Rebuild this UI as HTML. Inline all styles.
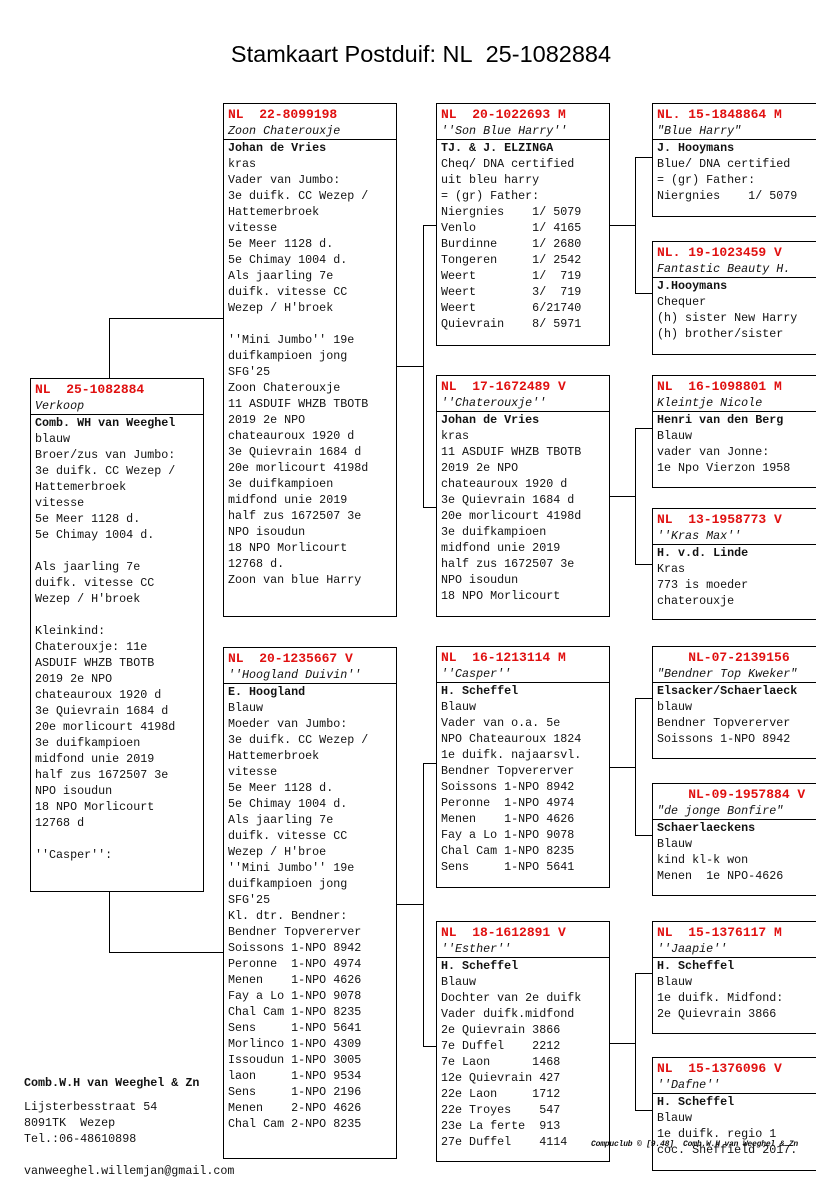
<!DOCTYPE html>
<html><head><meta charset="utf-8"><style>
body{margin:0;width:816px;height:1172px;position:relative;overflow:hidden;background:#fff;font-family:"Liberation Mono",monospace}
.b{position:absolute;border:1px solid #000;font-size:11.7px;line-height:16px;overflow:hidden;background:#fff;box-sizing:border-box;color:#111}
.h{padding:3px 0 0 4px;height:32px;border-bottom:1px solid #000;white-space:pre}
.r{color:#e01010;font-weight:bold;font-size:13px}
.i{font-style:italic}
.t{padding:0 0 0 4px;white-space:pre}
.o{font-weight:bold}
.l{position:absolute;background:#000}
</style></head><body>
<div style="position:absolute;left:0;width:842px;top:41px;text-align:center;font:23.5px 'Liberation Sans',sans-serif;">Stamkaart Postduif: NL&nbsp; 25-1082884</div>

<!-- connectors -->
<div class="l" style="left:109px;top:318px;width:1px;height:60px"></div>
<div class="l" style="left:109px;top:318px;width:114px;height:1px"></div>
<div class="l" style="left:109px;top:891px;width:1px;height:61px"></div>
<div class="l" style="left:109px;top:952px;width:114px;height:1px"></div>

<div class="l" style="left:396px;top:366px;width:27px;height:1px"></div>
<div class="l" style="left:423px;top:225px;width:1px;height:282px"></div>
<div class="l" style="left:423px;top:225px;width:13px;height:1px"></div>
<div class="l" style="left:423px;top:507px;width:13px;height:1px"></div>

<div class="l" style="left:396px;top:904px;width:27px;height:1px"></div>
<div class="l" style="left:423px;top:763px;width:1px;height:283px"></div>
<div class="l" style="left:423px;top:763px;width:13px;height:1px"></div>
<div class="l" style="left:423px;top:1046px;width:13px;height:1px"></div>

<div class="l" style="left:609px;top:225px;width:26px;height:1px"></div>
<div class="l" style="left:635px;top:157px;width:1px;height:136px"></div>
<div class="l" style="left:635px;top:157px;width:17px;height:1px"></div>
<div class="l" style="left:635px;top:293px;width:17px;height:1px"></div>

<div class="l" style="left:609px;top:496px;width:26px;height:1px"></div>
<div class="l" style="left:635px;top:428px;width:1px;height:136px"></div>
<div class="l" style="left:635px;top:428px;width:17px;height:1px"></div>
<div class="l" style="left:635px;top:564px;width:17px;height:1px"></div>

<div class="l" style="left:609px;top:767px;width:26px;height:1px"></div>
<div class="l" style="left:635px;top:698px;width:1px;height:137px"></div>
<div class="l" style="left:635px;top:698px;width:17px;height:1px"></div>
<div class="l" style="left:635px;top:835px;width:17px;height:1px"></div>

<div class="l" style="left:609px;top:1043px;width:26px;height:1px"></div>
<div class="l" style="left:635px;top:973px;width:1px;height:137px"></div>
<div class="l" style="left:635px;top:973px;width:17px;height:1px"></div>
<div class="l" style="left:635px;top:1110px;width:17px;height:1px"></div>

<!-- col1 -->
<div class="b" style="left:30px;top:378px;width:174px;height:514px">
<div class="h"><span class="r">NL  25-1082884</span>
<span class="i">Verkoop</span></div>
<div class="t"><span class="o">Comb. WH van Weeghel</span>
blauw
Broer/zus van Jumbo:
3e duifk. CC Wezep /
Hattemerbroek
vitesse
5e Meer 1128 d.
5e Chimay 1004 d.

Als jaarling 7e
duifk. vitesse CC
Wezep / H'broek

Kleinkind:
Chaterouxje: 11e
ASDUIF WHZB TBOTB
2019 2e NPO
chateauroux 1920 d
3e Quievrain 1684 d
20e morlicourt 4198d
3e duifkampioen
midfond unie 2019
half zus 1672507 3e
NPO isoudun
18 NPO Morlicourt
12768 d

''Casper'':</div></div>

<!-- col2 -->
<div class="b" style="left:223px;top:103px;width:174px;height:514px">
<div class="h"><span class="r">NL  22-8099198</span>
<span class="i">Zoon Chaterouxje</span></div>
<div class="t"><span class="o">Johan de Vries</span>
kras
Vader van Jumbo:
3e duifk. CC Wezep /
Hattemerbroek
vitesse
5e Meer 1128 d.
5e Chimay 1004 d.
Als jaarling 7e
duifk. vitesse CC
Wezep / H'broek

''Mini Jumbo'' 19e
duifkampioen jong
SFG'25
Zoon Chaterouxje
11 ASDUIF WHZB TBOTB
2019 2e NPO
chateauroux 1920 d
3e Quievrain 1684 d
20e morlicourt 4198d
3e duifkampioen
midfond unie 2019
half zus 1672507 3e
NPO isoudun
18 NPO Morlicourt
12768 d.
Zoon van blue Harry</div></div>

<div class="b" style="left:223px;top:647px;width:174px;height:512px">
<div class="h"><span class="r">NL  20-1235667 V</span>
<span class="i">''Hoogland Duivin''</span></div>
<div class="t"><span class="o">E. Hoogland</span>
Blauw
Moeder van Jumbo:
3e duifk. CC Wezep /
Hattemerbroek
vitesse
5e Meer 1128 d.
5e Chimay 1004 d.
Als jaarling 7e
duifk. vitesse CC
Wezep / H'broe
''Mini Jumbo'' 19e
duifkampioen jong
SFG'25
Kl. dtr. Bendner:
Bendner Topvererver
Soissons 1-NPO 8942
Peronne  1-NPO 4974
Menen    1-NPO 4626
Fay a Lo 1-NPO 9078
Chal Cam 1-NPO 8235
Sens     1-NPO 5641
Morlinco 1-NPO 4309
Issoudun 1-NPO 3005
laon     1-NPO 9534
Sens     1-NPO 2196
Menen    2-NPO 4626
Chal Cam 2-NPO 8235</div></div>

<!-- col3 -->
<div class="b" style="left:436px;top:103px;width:174px;height:243px">
<div class="h"><span class="r">NL  20-1022693 M</span>
<span class="i">''Son Blue Harry''</span></div>
<div class="t"><span class="o">TJ. &amp; J. ELZINGA</span>
Cheq/ DNA certified
uit bleu harry
= (gr) Father:
Niergnies    1/ 5079
Venlo        1/ 4165
Burdinne     1/ 2680
Tongeren     1/ 2542
Weert        1/  719
Weert        3/  719
Weert        6/21740
Quievrain    8/ 5971</div></div>

<div class="b" style="left:436px;top:375px;width:174px;height:242px">
<div class="h"><span class="r">NL  17-1672489 V</span>
<span class="i">''Chaterouxje''</span></div>
<div class="t"><span class="o">Johan de Vries</span>
kras
11 ASDUIF WHZB TBOTB
2019 2e NPO
chateauroux 1920 d
3e Quievrain 1684 d
20e morlicourt 4198d
3e duifkampioen
midfond unie 2019
half zus 1672507 3e
NPO isoudun
18 NPO Morlicourt</div></div>

<div class="b" style="left:436px;top:646px;width:174px;height:242px">
<div class="h"><span class="r">NL  16-1213114 M</span>
<span class="i">''Casper''</span></div>
<div class="t"><span class="o">H. Scheffel</span>
Blauw
Vader van o.a. 5e
NPO Chateauroux 1824
1e duifk. najaarsvl.
Bendner Topvererver
Soissons 1-NPO 8942
Peronne  1-NPO 4974
Menen    1-NPO 4626
Fay a Lo 1-NPO 9078
Chal Cam 1-NPO 8235
Sens     1-NPO 5641</div></div>

<div class="b" style="left:436px;top:921px;width:174px;height:241px">
<div class="h"><span class="r">NL  18-1612891 V</span>
<span class="i">''Esther''</span></div>
<div class="t"><span class="o">H. Scheffel</span>
Blauw
Dochter van 2e duifk
Vader duifk.midfond
2e Quievrain 3866
7e Duffel    2212
7e Laon      1468
12e Quievrain 427
22e Laon     1712
22e Troyes    547
23e La ferte  913
27e Duffel    4114</div></div>

<!-- col4 -->
<div class="b" style="left:652px;top:103px;width:180px;height:114px">
<div class="h"><span class="r">NL. 15-1848864 M</span>
<span class="i">"Blue Harry"</span></div>
<div class="t"><span class="o">J. Hooymans</span>
Blue/ DNA certified
= (gr) Father:
Niergnies    1/ 5079</div></div>

<div class="b" style="left:652px;top:241px;width:180px;height:114px">
<div class="h"><span class="r">NL. 19-1023459 V</span>
<span class="i">Fantastic Beauty H.</span></div>
<div class="t"><span class="o">J.Hooymans</span>
Chequer
(h) sister New Harry
(h) brother/sister</div></div>

<div class="b" style="left:652px;top:375px;width:180px;height:113px">
<div class="h"><span class="r">NL  16-1098801 M</span>
<span class="i">Kleintje Nicole</span></div>
<div class="t"><span class="o">Henri van den Berg</span>
Blauw
vader van Jonne:
1e Npo Vierzon 1958</div></div>

<div class="b" style="left:652px;top:508px;width:180px;height:112px">
<div class="h"><span class="r">NL  13-1958773 V</span>
<span class="i">''Kras Max''</span></div>
<div class="t"><span class="o">H. v.d. Linde</span>
Kras
773 is moeder
chaterouxje</div></div>

<div class="b" style="left:652px;top:646px;width:180px;height:113px">
<div class="h"><span class="r">    NL-07-2139156</span>
<span class="i">"Bendner Top Kweker"</span></div>
<div class="t"><span class="o">Elsacker/Schaerlaeck</span>
blauw
Bendner Topvererver
Soissons 1-NPO 8942</div></div>

<div class="b" style="left:652px;top:783px;width:180px;height:113px">
<div class="h"><span class="r">    NL-09-1957884 V</span>
<span class="i">"de jonge Bonfire"</span></div>
<div class="t"><span class="o">Schaerlaeckens</span>
Blauw
kind kl-k won
Menen  1e NPO-4626</div></div>

<div class="b" style="left:652px;top:921px;width:180px;height:113px">
<div class="h"><span class="r">NL  15-1376117 M</span>
<span class="i">''Jaapie''</span></div>
<div class="t"><span class="o">H. Scheffel</span>
Blauw
1e duifk. Midfond:
2e Quievrain 3866</div></div>

<div class="b" style="left:652px;top:1057px;width:180px;height:114px">
<div class="h"><span class="r">NL  15-1376096 V</span>
<span class="i">''Dafne''</span></div>
<div class="t"><span class="o">H. Scheffel</span>
Blauw
1e duifk. regio 1
coc. Sheffield 2017.</div></div>

<div style="position:absolute;left:591px;top:1140px;font:italic bold 8px 'Liberation Mono',monospace;letter-spacing:-0.2px;white-space:pre;color:#111">Compuclub © [9.48]  Comb.W.H van Weeghel &amp; Zn</div>

<div style="position:absolute;left:24px;top:1075px;font-size:11.7px;line-height:16px;white-space:pre;color:#111"><b>Comb.W.H van Weeghel &amp; Zn</b></div>
<div style="position:absolute;left:24px;top:1099px;font-size:11.7px;line-height:16px;white-space:pre;color:#111">Lijsterbesstraat 54
8091TK  Wezep
Tel.:06-48610898</div>
<div style="position:absolute;left:24px;top:1163px;font-size:11.7px;line-height:16px;white-space:pre;color:#111">vanweeghel.willemjan@gmail.com</div>
</body></html>
